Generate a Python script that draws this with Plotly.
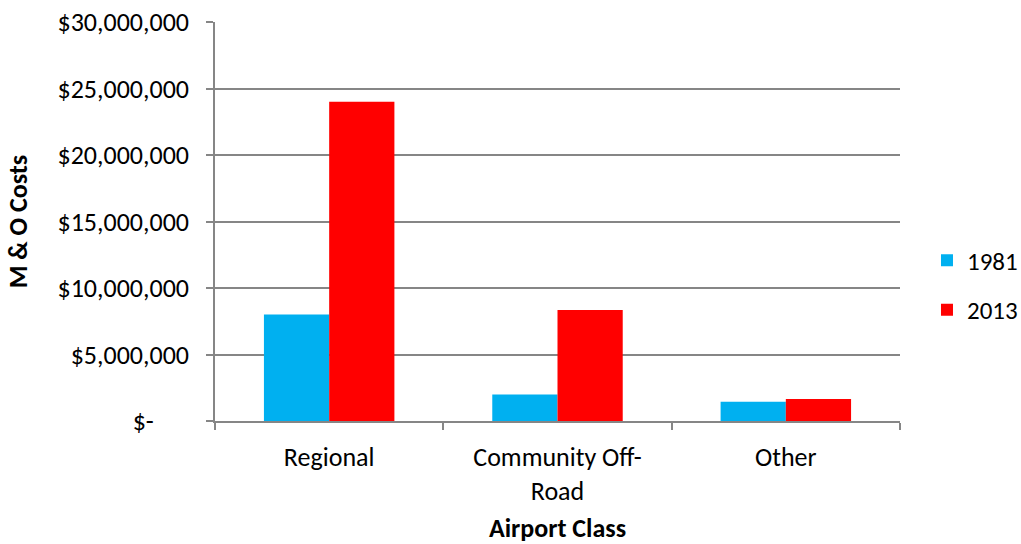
import plotly.graph_objects as go

# M & O costs by airport class
categories = ["Regional", "Community Off-<br>Road", "Other"]
costs_1981 = [8000000, 2000000, 1450000]
costs_2013 = [24000000, 8350000, 1650000]

y_tick_values = [0, 5000000, 10000000, 15000000, 20000000, 25000000, 30000000]
y_tick_labels = ["$-      ", "$5,000,000", "$10,000,000", "$15,000,000",
                 "$20,000,000", "$25,000,000", "$30,000,000"]

FONT = "Carlito, Calibri, Lato, sans-serif"
GRID = "#868686"

fig = go.Figure()
fig.add_trace(go.Bar(name="1981", x=categories, y=costs_1981, legendgroup="a",
                     marker=dict(color="#00B0F0", line=dict(width=0))))
fig.add_trace(go.Bar(name="2013", x=categories, y=costs_2013, legendgroup="b",
                     marker=dict(color="#FF0000", line=dict(width=0))))

fig.update_layout(
    width=1021, height=544,
    margin=dict(l=215, r=121, t=22, b=123, autoexpand=False),
    paper_bgcolor="white", plot_bgcolor="white",
    barmode="group", bargap=0.4286, bargroupgap=0,
    font=dict(family=FONT, size=26, color="black"),
    legend=dict(x=1.0394, y=0.341, xanchor="left", yanchor="middle",
                font=dict(size=25), itemwidth=30, tracegroupgap=14,
                bgcolor="rgba(0,0,0,0)"),
    xaxis=dict(
        tickson="boundaries", ticks="outside", ticklen=7, tickcolor=GRID,
        tickwidth=1.5, showline=True, linecolor=GRID, linewidth=1.5,
        showgrid=False, ticklabelstandoff=12,
        title=dict(text="<b>Airport Class</b>", font=dict(size=26), standoff=18),
    ),
    yaxis=dict(
        range=[0, 30000000], tickvals=y_tick_values, ticktext=y_tick_labels,
        ticks="outside", ticklen=7, tickcolor=GRID, tickwidth=1.5,
        showline=True, linecolor=GRID, linewidth=1.5, ticklabelstandoff=12,
        showgrid=True, gridcolor=GRID, gridwidth=1.5, zeroline=False,
        title=dict(text="<b>M & O Costs</b>", font=dict(size=26), standoff=22),
    ),
)

fig.write_html("out.html")
